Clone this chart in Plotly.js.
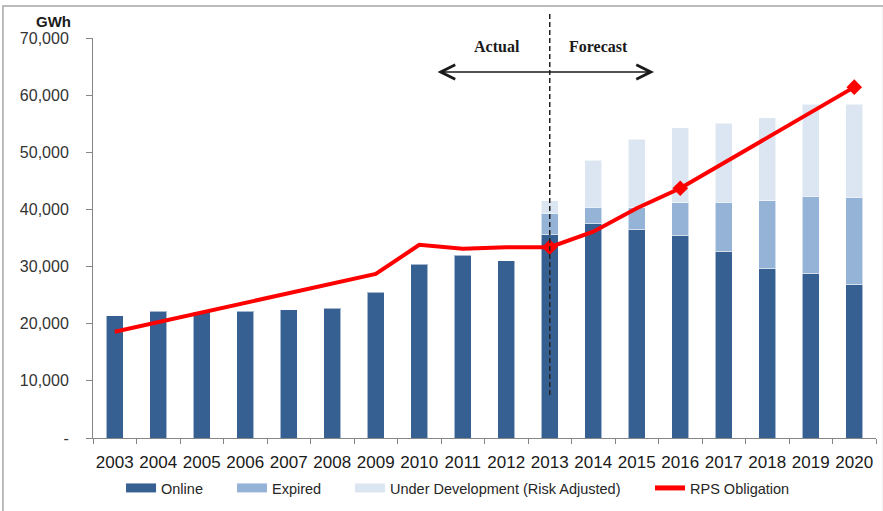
<!DOCTYPE html>
<html>
<head>
<meta charset="utf-8">
<script src="https://cdn.plot.ly/plotly-3.0.1.min.js"></script>
<style>html,body{margin:0;padding:0;background:#fff}#chart{width:883px;height:511px}</style>
</head>
<body>
<div id="chart"></div>
<script>
var years = ['2003','2004','2005','2006','2007','2008','2009','2010','2011','2012','2013','2014','2015','2016','2017','2018','2019','2020'];
var online = [21400, 22170, 22100, 22170, 22460, 22750, 25500, 30450, 31970, 31040, 35700, 37500, 36500, 35400, 32700, 29600, 28800, 26900];
var expired = [null, null, null, null, null, null, null, null, null, null, 3600, 2900, 3800, 5800, 8600, 11900, 13550, 15270];
var underDev = [null, null, null, null, null, null, null, null, null, null, 2200, 8250, 12000, 13100, 13800, 14550, 16050, 16280];
var rps = [18600, 20300, 22000, 23650, 25350, 27000, 28700, 33800, 33100, 33400, 33400, 36100, 40200, 43700, 48100, 52500, 56900, 61400];
var markedYears = ['2013', '2016', '2020'];
var yTickVals = [0, 10000, 20000, 30000, 40000, 50000, 60000, 70000];
var yTickText = ['-', '10,000', '20,000', '30,000', '40,000', '50,000', '60,000', '70,000'];
var forecastStart = '2013';

var C_ON = '#376092', C_EX = '#95B3D7', C_UD = '#DCE6F2', C_RPS = '#FF0000';
var barLine = {color: 'rgba(255,255,255,0.55)', width: 1};

var markX = [], markY = [];
years.forEach(function (y, i) { if (markedYears.indexOf(y) >= 0) { markX.push(y); markY.push(rps[i]); } });
var forecastIdx = years.indexOf(forecastStart);

var traces = [
  {type: 'bar', x: years, y: online, name: 'Online', marker: {color: C_ON, line: barLine}, showlegend: false, legendgroup: 'on'},
  {type: 'bar', x: years, y: expired, name: 'Expired', marker: {color: C_EX, line: barLine}, showlegend: false, legendgroup: 'ex'},
  {type: 'bar', x: years, y: underDev, name: 'Under Development (Risk Adjusted)', marker: {color: C_UD, line: barLine}, showlegend: false, legendgroup: 'ud'},
  {type: 'scatter', mode: 'lines', x: years, y: rps, name: 'RPS Obligation', line: {color: C_RPS, width: 4}, showlegend: false, legendgroup: 'rps'},
  {type: 'scatter', mode: 'markers', x: markX, y: markY, name: 'RPS Obligation', marker: {color: C_RPS, symbol: 'diamond', size: 12}, showlegend: false, legendgroup: 'rps'},
  // legend entries (flat swatches like the original), one legend box each so they sit where the original has them
  {type: 'scatter', mode: 'lines', x: [years[0]], y: [null], name: 'Online', line: {color: C_ON, width: 9}, legendgroup: 'on', legend: 'legend'},
  {type: 'scatter', mode: 'lines', x: [years[0]], y: [null], name: 'Expired', line: {color: C_EX, width: 9}, legendgroup: 'ex', legend: 'legend2'},
  {type: 'scatter', mode: 'lines', x: [years[0]], y: [null], name: 'Under Development (Risk Adjusted)', line: {color: C_UD, width: 9}, legendgroup: 'ud', legend: 'legend3'},
  {type: 'scatter', mode: 'lines', x: [years[0]], y: [null], name: 'RPS Obligation', line: {color: C_RPS, width: 5}, legendgroup: 'rps', legend: 'legend4'}
];

function leg(x) {
  return {orientation: 'h', x: x, xanchor: 'left', y: -0.125, yanchor: 'middle',
          font: {size: 14.5, color: '#262626'}, bgcolor: 'rgba(0,0,0,0)', itemclick: false, itemdoubleclick: false};
}

var layout = {
  width: 883, height: 511,
  margin: {l: 93, r: 7, t: 38, b: 73, pad: 0},
  paper_bgcolor: '#ffffff', plot_bgcolor: '#ffffff',
  font: {family: '"Liberation Sans", Arial, sans-serif', color: '#262626'},
  barmode: 'stack', bargap: 0.6,
  showlegend: true,
  legend: leg(0.0358), legend2: leg(0.1775), legend3: leg(0.3282), legend4: leg(0.7114),
  xaxis: {type: 'category', categoryorder: 'array', categoryarray: years, range: [-0.5, years.length - 0.5],
          showline: true, linecolor: '#868686', linewidth: 1,
          ticks: 'outside', tickson: 'boundaries', ticklen: 5, tickcolor: '#868686',
          tickfont: {size: 17, color: '#1a1a1a'}, ticklabelstandoff: 9, tickangle: 0,
          showgrid: false, zeroline: false, fixedrange: true},
  yaxis: {range: [0, 70000], showline: true, linecolor: '#868686', linewidth: 1,
          ticks: 'outside', ticklen: 6, tickcolor: '#868686',
          tickvals: yTickVals, ticktext: yTickText, tickfont: {size: 16, color: '#333333'},
          ticklabelstandoff: 14, showgrid: false, zeroline: false, fixedrange: true},
  shapes: [
    {type: 'line', xref: 'x', yref: 'paper', x0: forecastIdx, x1: forecastIdx, y0: 0.1075, y1: 1.065,
     line: {color: '#222222', width: 1.5, dash: '5px,3px'}},
    {type: 'rect', xref: 'paper', yref: 'paper', x0: -0.115, x1: 1.0097, y0: -0.185, y1: 1.08,
     line: {color: '#a6a6a6', width: 1.5}, fillcolor: 'rgba(0,0,0,0)', layer: 'below'}
  ],
  annotations: [
    {xref: 'paper', yref: 'paper', x: -0.05, y: 1.04, text: '<b>GWh</b>', showarrow: false,
     font: {size: 15, color: '#1a1a1a'}, xanchor: 'center', yanchor: 'middle'},
    {xref: 'paper', yref: 'paper', x: 0.5159, y: 0.9775, text: '<b>Actual</b>', showarrow: false,
     font: {family: '"Liberation Serif", "Times New Roman", serif', size: 16, color: '#1a1a1a'}, xanchor: 'center', yanchor: 'middle'},
    {xref: 'paper', yref: 'paper', x: 0.6456, y: 0.9775, text: '<b>Forecast</b>', showarrow: false,
     font: {family: '"Liberation Serif", "Times New Roman", serif', size: 16, color: '#1a1a1a'}, xanchor: 'center', yanchor: 'middle'},
    {xref: 'paper', yref: 'paper', x: 0.7165, y: 0.915, text: '', showarrow: true,
     axref: 'pixel', ayref: 'pixel', ax: -218, ay: 0, arrowhead: 5, startarrowhead: 5, arrowside: 'end+start',
     arrowsize: 2.2, startarrowsize: 2.2, arrowwidth: 1.3, arrowcolor: '#1a1a1a', standoff: 0, startstandoff: 0}
  ]
};

Plotly.newPlot('chart', traces, layout, {displayModeBar: false, staticPlot: true});
</script>
</body>
</html>
